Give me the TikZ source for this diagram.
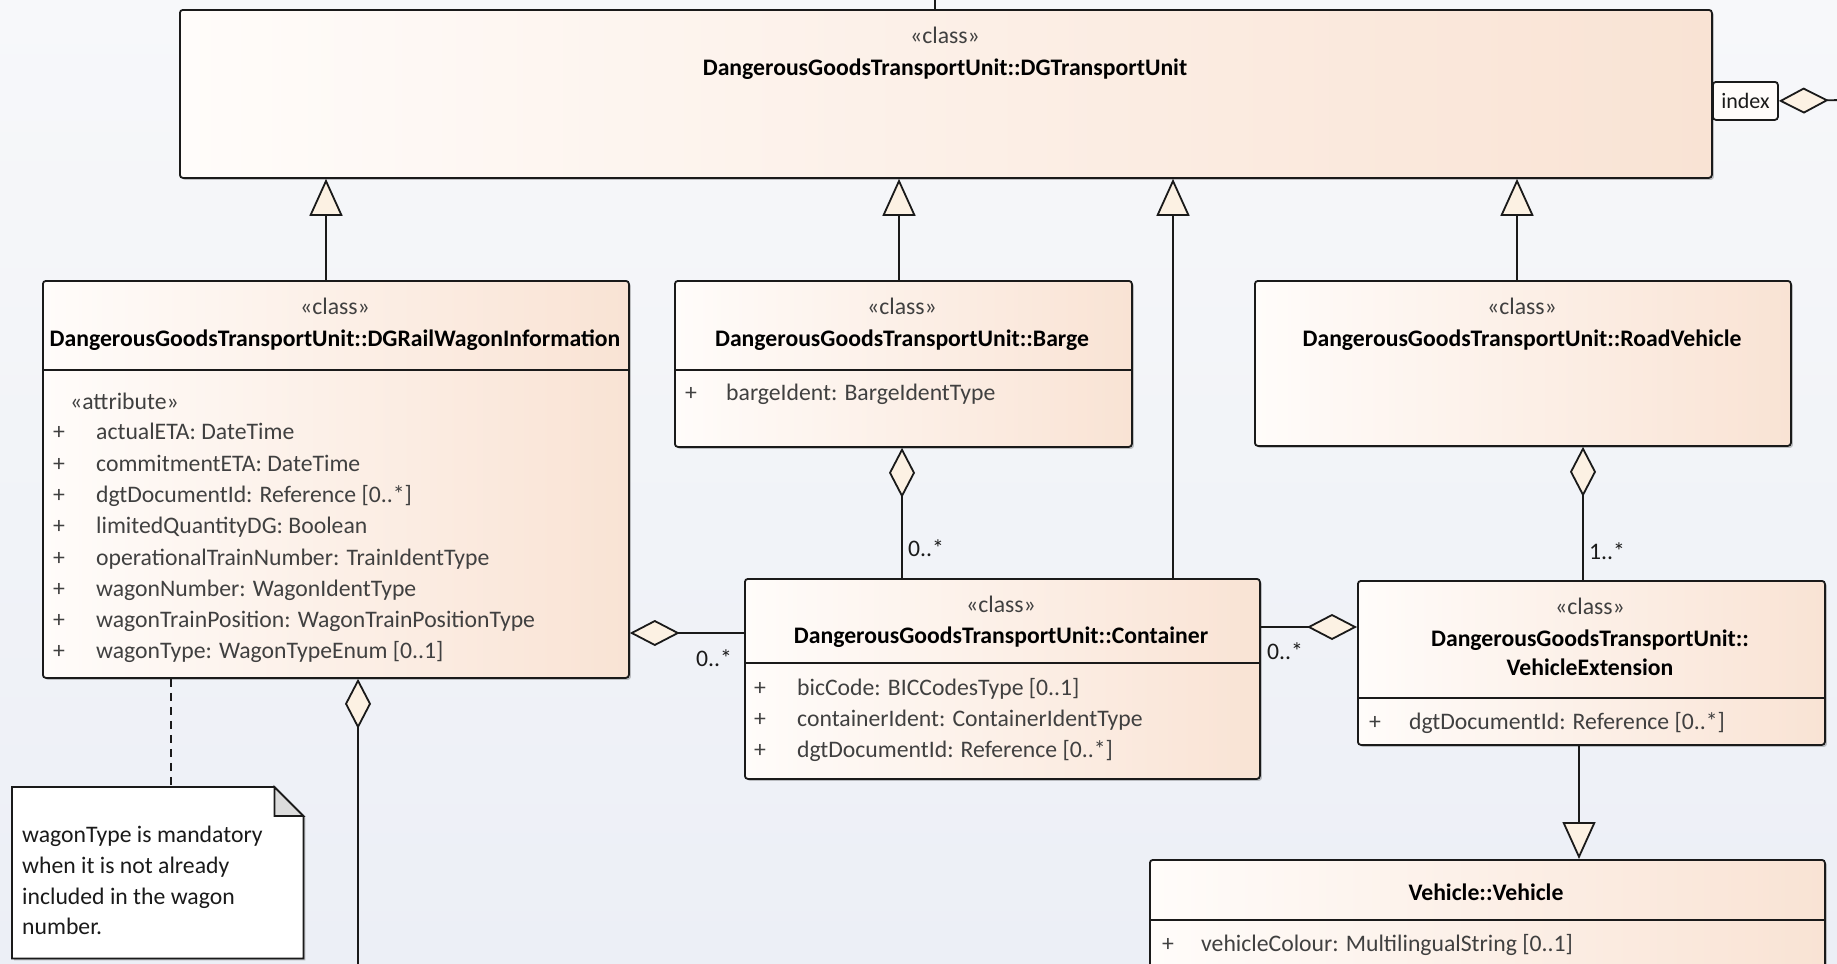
\documentclass[tikz,border=0pt]{standalone}
\usepackage{fontspec}
\setmainfont{Carlito}
\usetikzlibrary{arrows.meta,shadows}
\definecolor{bgtop}{HTML}{F7F8FA}
\definecolor{bgbot}{HTML}{ECEFF6}
\definecolor{boxL}{HTML}{FFFCFA}
\definecolor{boxR}{HTML}{F9E3D4}
\definecolor{tipfill}{HTML}{FCF1E3}
\definecolor{ink}{HTML}{1A1A1A}
\definecolor{attrc}{HTML}{404040}
\definecolor{earc}{HTML}{DCDCDC}
\begin{document}
\begin{tikzpicture}[x=1pt,y=-1pt,
  classbox/.style={draw=ink, line width=1.8pt, rounded corners=3pt, left color=boxL, right color=boxR,
    drop shadow={shadow xshift=2pt, shadow yshift=-2pt, fill=black, opacity=0.22},
    inner sep=0pt, anchor=north west},
  txt/.style={font=\fontsize{23.7}{28}\selectfont, inner sep=0pt, text=attrc},
  stereo/.style={txt, anchor=mid},
  cname/.style={font=\fontsize{23.7}{28}\selectfont\bfseries, inner sep=0pt, anchor=mid, text=black},
  attr/.style={txt, anchor=mid west},
  mult/.style={txt, anchor=mid west, text=ink},
  divline/.style={draw=ink, line width=1.8pt},
  conn/.style={draw=ink, line width=1.8pt},
  gen/.style={conn, -{Triangle[length=37pt,width=33pt,fill=tipfill,line join=miter]}},
  agg/.style={conn, {Diamond[length=50pt,width=26pt,fill=tipfill,line join=miter]}-},
  dashedline/.style={conn, dash pattern=on 8pt off 6pt},
]
% background
\fill[top color=bgtop, bottom color=bgbot] (0,0) rectangle (1837,964);
\useasboundingbox (0,0) rectangle (1837,964);

% ---------- main class ----------
\node[classbox, minimum width=1532pt, minimum height=168pt] (main) at (179,9) {};
\node[stereo] (mainst) at (945,41) {«class»};
\node[cname] (mainnm) at (945,73) {DangerousGoodsTransportUnit::DGTransportUnit};

% index tag
\node[draw=ink, line width=1.8pt, rounded corners=3pt, fill=boxL, minimum width=65pt, minimum height=38pt,
  inner sep=0pt, anchor=north west, font=\fontsize{22}{26}\selectfont, text=ink] (index) at (1712,81) {index};
\coordinate (idxend) at (1845,100);
\draw[agg] (index.east) -- (idxend);

% top connector
\coordinate (topend) at (935,-5);
\draw[conn] (main.north -| 935,0) -- (topend);

% ---------- rail wagon ----------
\node[classbox, minimum width=586pt, minimum height=397pt] (rail) at (42,280) {};
\node[stereo] (railst) at (335,312) {«class»};
\node[cname] (railnm) at (335,344) {DangerousGoodsTransportUnit::DGRailWagonInformation};
\draw[divline] (rail.west |- 0,370) -- (rail.east |- 0,370);
\node[attr] (railat) at (70,407) {«attribute»};
\foreach \t [count=\i from 0] in {actualETA: DateTime, commitmentETA: DateTime, dgtDocumentId: Reference [0..*], limitedQuantityDG: Boolean, operationalTrainNumber: TrainIdentType, wagonNumber: WagonIdentType, wagonTrainPosition: WagonTrainPositionType, wagonType: WagonTypeEnum [0..1]}{
  \node[attr] (railp\i) at (53,437.5+31.3*\i) {+};
  \node[attr] (raila\i) at (96,437.5+31.3*\i) {\t};
}

% ---------- barge ----------
\node[classbox, minimum width=457pt, minimum height=166pt] (barge) at (674,280) {};
\node[stereo] (bargest) at (902,312) {«class»};
\node[cname] (bargenm) at (902,344) {DangerousGoodsTransportUnit::Barge};
\draw[divline] (barge.west |- 0,370) -- (barge.east |- 0,370);
\node[attr] (bargep) at (685,398) {+};
\node[attr] (bargea) at (726,398) {bargeIdent: BargeIdentType};

% ---------- road vehicle ----------
\node[classbox, minimum width=536pt, minimum height=165pt] (road) at (1254,280) {};
\node[stereo] (roadst) at (1522,312) {«class»};
\node[cname] (roadnm) at (1522,344) {DangerousGoodsTransportUnit::RoadVehicle};

% ---------- container ----------
\node[classbox, minimum width=515pt, minimum height=200pt] (container) at (744,578) {};
\node[stereo] (contst) at (1001,610) {«class»};
\node[cname] (contnm) at (1001,641) {DangerousGoodsTransportUnit::Container};
\draw[divline] (container.west |- 0,663) -- (container.east |- 0,663);
\foreach \t [count=\i from 0] in {bicCode: BICCodesType [0..1], containerIdent: ContainerIdentType, dgtDocumentId: Reference [0..*]}{
  \node[attr] (contp\i) at (754,693+31*\i) {+};
  \node[attr] (conta\i) at (797,693+31*\i) {\t};
}

% ---------- vehicle extension ----------
\node[classbox, minimum width=467pt, minimum height=164pt] (vext) at (1357,580) {};
\node[stereo] (vextst) at (1590,612) {«class»};
\node[cname] (vextnm1) at (1590,644) {DangerousGoodsTransportUnit::};
\node[cname] (vextnm2) at (1590,673) {VehicleExtension};
\draw[divline] (vext.west |- 0,698) -- (vext.east |- 0,698);
\node[attr] (vextp) at (1369,727) {+};
\node[attr] (vexta) at (1409,727) {dgtDocumentId: Reference [0..*]};

% ---------- vehicle ----------
\node[classbox, minimum width=675pt, minimum height=160pt] (vehicle) at (1149,859) {};
\node[cname] (vehnm) at (1486,898) {Vehicle::Vehicle};
\draw[divline] (vehicle.west |- 0,920) -- (vehicle.east |- 0,920);
\node[attr] (vehp) at (1162,949) {+};
\node[attr] (veha) at (1201,949) {vehicleColour: MultilingualString [0..1]};

% ---------- note ----------
\node[minimum width=291pt, minimum height=171pt, inner sep=0pt, anchor=north west] (note) at (12,787) {};
\filldraw[draw=ink, line width=1.8pt, fill=white, line join=miter,
  drop shadow={shadow xshift=2pt, shadow yshift=-2pt, fill=black, opacity=0.22}]
  (note.north west) -- ([xshift=-29pt]note.north east) -- ([yshift=-29pt]note.north east)
  -- (note.south east) -- (note.south west) -- cycle;
\filldraw[draw=ink, line width=1.8pt, fill=earc, line join=miter]
  ([xshift=-29pt]note.north east) -- ([xshift=-29pt,yshift=-29pt]note.north east) -- ([yshift=-29pt]note.north east) -- cycle;
\foreach \t [count=\i from 0] in {wagonType is mandatory, when it is not already, included in the wagon, number.}{
  \node[txt, anchor=mid west, text=ink] (notel\i) at (22,840.5+30.6*\i) {\t};
}

% ---------- connectors ----------
\draw[gen] (rail.north -| 326,0) -- (main.south -| 326,0);
\draw[gen] (barge.north -| 899,0) -- (main.south -| 899,0);
\draw[gen] (container.north -| 1173,0) -- (main.south -| 1173,0);
\draw[gen] (road.north -| 1517,0) -- (main.south -| 1517,0);
\draw[gen] (vext.south -| 1579,0) -- (vehicle.north -| 1579,0);

\draw[agg] (barge.south -| 902,0) -- (container.north -| 902,0);
\draw[agg] (road.south -| 1583,0) -- (vext.north -| 1583,0);
\draw[agg] (rail.east |- 0,633) -- (container.west |- 0,633);
\draw[agg] (vext.west |- 0,627) -- (container.east |- 0,627);
\coordinate (railbot) at (358,990);
\draw[agg] (rail.south -| 358,0) -- (railbot);
\draw[dashedline] (rail.south -| 171,0) -- (note.north -| 171,0);

\node[mult] (m1) at (908,554) {0..*};
\node[mult] (m2) at (696,664) {0..*};
\node[mult] (m3) at (1267,657) {0..*};
\node[mult] (m4) at (1589,557) {1..*};
\end{tikzpicture}
\end{document}
